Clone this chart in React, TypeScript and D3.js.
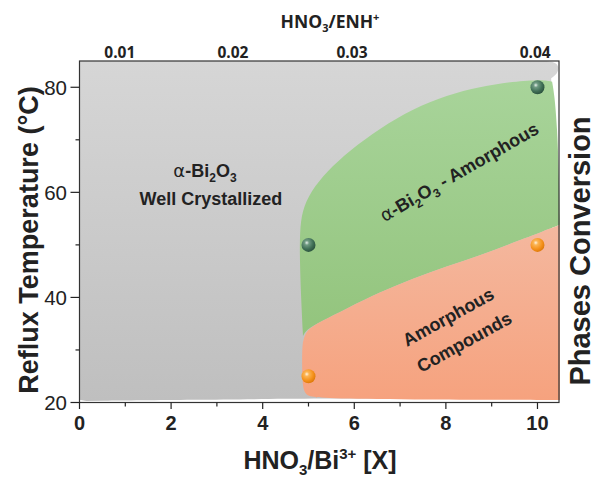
import React from "react";
import * as d3 from "d3";

// Canvas and plot frame
const W = 595;
const H = 478;
const PLOT = { left: 79.5, right: 559, top: 61, bottom: 402.5 };

// Axis domains and ticks
const xDomain = [0, 10.47];
const yDomain = [20, 85];
const xMinorTicks = [0, 1, 2, 3, 4, 5, 6, 7, 8, 9, 10];
const xMajorTicks = [0, 2, 4, 6, 8, 10];
const yMinorTicks = [20, 30, 40, 50, 60, 70, 80];
const yMajorTicks = [20, 40, 60, 80];

// Secondary (top) axis: HNO3/ENH+ ratio labels placed against HNO3/Bi3+ positions
const topTickLabels = ["0.01", "0.02", "0.03", "0.04"];
const topTickPositions = [0.88, 3.35, 5.95, 9.95];

// Phase region outlines, in (HNO3/Bi3+, temperature) units
const grayCorner: [number, number][] = [
  [10.2, 85], [10.4, 84.7], [10.47, 83.9], [10.44, 82.6], [10.3, 81.7],
];
const grayBottom: [number, number][] = [
  [10.3, 20.9], [4.81, 20.76], [2.5, 20.5], [0.15, 20.3],
];

const mixedLeftTop: [number, number][] = [
  [4.88, 32.67], [4.84, 39.5], [4.81, 47.1], [4.81, 52.5], [4.86, 56.5],
  [5.05, 60.2], [5.4, 64.0], [5.9, 68.0], [6.56, 72.2], [7.28, 75.9],
  [8.02, 78.5], [8.74, 80.1], [9.47, 81.1], [10.12, 81.5], [10.32, 81.05],
];
const mixedRight: [number, number][] = [
  [10.32, 81.05], [10.37, 78.57], [10.43, 72.48], [10.47, 62.95], [10.49, 53.81],
];

const amorphTop: [number, number][] = [
  [4.88, 31.52], [4.95, 33.81], [5.25, 35.33], [5.84, 37.9], [6.56, 41.0],
  [7.28, 43.6], [8.02, 45.9], [8.74, 48.0], [9.47, 50.4], [10.16, 52.7],
  [10.49, 53.81],
];
const amorphBottom: [number, number][] = [
  [10.49, 53.81], [10.49, 20.48], [7.43, 20.57], [5.47, 20.76], [5.03, 21.05],
  [4.88, 21.81], [4.86, 26.19], [4.86, 30.0], [4.88, 31.52],
];

// Experimental points
const mixedX = [5, 10];
const mixedY = [50, 80];
const amorphX = [5, 10];
const amorphY = [25, 50];

const x = d3.scaleLinear().domain(xDomain).range([PLOT.left, PLOT.right]);
const y = d3.scaleLinear().domain(yDomain).range([PLOT.bottom, PLOT.top]);

const smooth = d3
  .line<[number, number]>()
  .x((d) => x(d[0]))
  .y((d) => y(d[1]))
  .curve(d3.curveBasis);
const straight = d3
  .line<[number, number]>()
  .x((d) => x(d[0]))
  .y((d) => y(d[1]));

const join = (...parts: string[]) =>
  parts.map((p, i) => (i === 0 ? p : p.replace(/^M/, "L"))).join("") + "Z";

const grayPath = join(
  straight([[0, 85], [10.2, 85]]) as string,
  smooth(grayCorner) as string,
  straight([[10.3, 81.7], [10.3, 20.9]]) as string,
  smooth(grayBottom) as string,
  straight([[0.15, 20.3], [0, 20.5]]) as string
);

const mixedPath = join(
  smooth(mixedLeftTop) as string,
  smooth(mixedRight) as string,
  smooth([...amorphTop].reverse().slice(0, -1).concat([[4.88, 32.67]])) as string
);

const amorphPath = join(
  smooth(amorphTop) as string,
  straight(amorphBottom.slice(0, 2)) as string,
  smooth(amorphBottom.slice(1)) as string
);

const SANS = "'Liberation Sans', Arial, sans-serif";
const CAL = "'Open Sans', sans-serif";

export default function App() {
  return (
    <svg
      width={W}
      height={H}
      viewBox={`0 0 ${W} ${H}`}
      style={{ position: "absolute", left: 0, top: 0, background: "#fff" }}
    >
      <defs>
        <linearGradient id="gGray" x1="0" y1="0" x2="0" y2="1">
          <stop offset="0" stopColor="#d6d6d6" />
          <stop offset="1" stopColor="#bfbfbf" />
        </linearGradient>
        <linearGradient id="gGreen" x1="0" y1="0" x2="0" y2="1">
          <stop offset="0" stopColor="#a8d49a" />
          <stop offset="1" stopColor="#93c47d" />
        </linearGradient>
        <linearGradient id="gOrange" x1="0" y1="0" x2="0" y2="1">
          <stop offset="0" stopColor="#f4b89f" />
          <stop offset="1" stopColor="#f6a27e" />
        </linearGradient>
        <radialGradient id="sGreen" cx="0.38" cy="0.35" r="0.65">
          <stop offset="0" stopColor="#e6f0ea" />
          <stop offset="0.25" stopColor="#6f9a82" />
          <stop offset="0.7" stopColor="#3f6e55" />
          <stop offset="1" stopColor="#2d5540" />
        </radialGradient>
        <radialGradient id="sOrange" cx="0.38" cy="0.35" r="0.65">
          <stop offset="0" stopColor="#fff3e0" />
          <stop offset="0.25" stopColor="#fbb454" />
          <stop offset="0.7" stopColor="#f5921b" />
          <stop offset="1" stopColor="#e07c0c" />
        </radialGradient>
      </defs>

      {/* phase regions */}
      <path d={grayPath} fill="url(#gGray)" />
      <path d={mixedPath} fill="url(#gGreen)" />
      <path d={amorphPath} fill="url(#gOrange)" />

      {/* experimental points */}
      {mixedX.map((v, i) => (
        <circle key={`m${i}`} cx={x(v)} cy={y(mixedY[i])} r={7} fill="url(#sGreen)" />
      ))}
      {amorphX.map((v, i) => (
        <circle key={`a${i}`} cx={x(v)} cy={y(amorphY[i])} r={7} fill="url(#sOrange)" />
      ))}

      {/* frame */}
      <rect
        x={PLOT.left}
        y={PLOT.top}
        width={PLOT.right - PLOT.left}
        height={PLOT.bottom - PLOT.top}
        fill="none"
        stroke="#333"
        strokeWidth={1.2}
      />

      {/* bottom axis ticks */}
      {xMinorTicks.map((t) => (
        <line
          key={`xt${t}`}
          x1={x(t)}
          x2={x(t)}
          y1={PLOT.bottom}
          y2={PLOT.bottom + (xMajorTicks.includes(t) ? 6.5 : 4)}
          stroke="#222"
          strokeWidth={1.2}
        />
      ))}
      {xMajorTicks.map((t) => (
        <text
          key={`xl${t}`}
          x={x(t)}
          y={430}
          textAnchor="middle"
          fontFamily={SANS}
          fontWeight="bold"
          fontSize={20}
          fill="#222"
        >
          {t}
        </text>
      ))}

      {/* left axis ticks */}
      {yMinorTicks.map((t) => (
        <line
          key={`yt${t}`}
          x1={PLOT.left}
          x2={PLOT.left - (yMajorTicks.includes(t) ? 9 : 4)}
          y1={y(t)}
          y2={y(t)}
          stroke="#222"
          strokeWidth={1.2}
        />
      ))}
      {yMajorTicks.map((t) => (
        <text
          key={`yl${t}`}
          x={67}
          y={y(t)}
          dy="0.36em"
          textAnchor="end"
          fontFamily={SANS}
          fontSize={20.5}
          fill="#222"
        >
          {t}
        </text>
      ))}

      {/* top axis labels */}
      {topTickLabels.map((lab, i) => (
        <text
          key={`tl${i}`}
          x={x(topTickPositions[i])}
          y={58}
          textAnchor="middle"
          fontFamily={CAL}
          fontWeight="bold"
          fontSize={15.5}
          fill="#222"
        >
          {lab}
        </text>
      ))}
      <text x={330} y={28} textAnchor="middle" fontFamily={CAL} fontWeight="bold" fontSize={17.5} fill="#222">
        HNO
        <tspan fontSize={11} dy={4}>3</tspan>
        <tspan dy={-4}>/ENH</tspan>
        <tspan fontSize={11} dy={-7}>+</tspan>
      </text>

      {/* axis titles */}
      <text x={320} y={469} textAnchor="middle" fontFamily={SANS} fontWeight="bold" fontSize={25} fill="#222">
        HNO
        <tspan fontSize={15} dy={6}>3</tspan>
        <tspan dy={-6}>/Bi</tspan>
        <tspan fontSize={15} dy={-10}>3+</tspan>
        <tspan dy={10}> [X]</tspan>
      </text>
      <text
        transform="translate(37.5,240) rotate(-90)"
        textAnchor="middle"
        fontFamily={SANS}
        fontWeight="bold"
        fontSize={27}
        fill="#222"
      >
        Reflux Temperature (°C)
      </text>
      <text
        transform="translate(590,251) rotate(-90)"
        textAnchor="middle"
        fontFamily={SANS}
        fontWeight="bold"
        fontSize={29}
        fill="#222"
      >
        Phases Conversion
      </text>

      {/* region annotations */}
      <text x={x(2.74)} y={y(62.95)} textAnchor="middle" fontFamily={SANS} fontWeight="bold" fontSize={18} fill="#222">
        <tspan fontFamily="'DejaVu Sans', sans-serif" fontWeight="normal">α</tspan>-Bi
        <tspan fontSize={12} dy={5}>2</tspan>
        <tspan dy={-5}>O</tspan>
        <tspan fontSize={12} dy={5}>3</tspan>
      </text>
      <text x={x(2.87)} y={y(57.62)} textAnchor="middle" fontFamily={SANS} fontWeight="bold" fontSize={18} fill="#222">
        Well Crystallized
      </text>
      <text
        transform={`translate(${x(8.29)},${y(63.9)}) rotate(-30)`}
        textAnchor="middle"
        dy="0.35em"
        fontFamily={SANS}
        fontWeight="bold"
        fontSize={18}
        fill="#222"
      >
        <tspan fontFamily="'DejaVu Sans', sans-serif" fontWeight="normal">α</tspan>-Bi
        <tspan fontSize={12} dy={5}>2</tspan>
        <tspan dy={-5}>O</tspan>
        <tspan fontSize={12} dy={5}>3</tspan>
        <tspan dy={-5}> - Amorphous</tspan>
      </text>
      <text
        transform={`translate(${x(8.05)},${y(36.29)}) rotate(-29)`}
        textAnchor="middle"
        dy="0.35em"
        fontFamily={SANS}
        fontWeight="bold"
        fontSize={18}
        fill="#222"
      >
        Amorphous
      </text>
      <text
        transform={`translate(${x(8.4)},${y(31.52)}) rotate(-29)`}
        textAnchor="middle"
        dy="0.35em"
        fontFamily={SANS}
        fontWeight="bold"
        fontSize={18}
        fill="#222"
      >
        Compounds
      </text>
    </svg>
  );
}
